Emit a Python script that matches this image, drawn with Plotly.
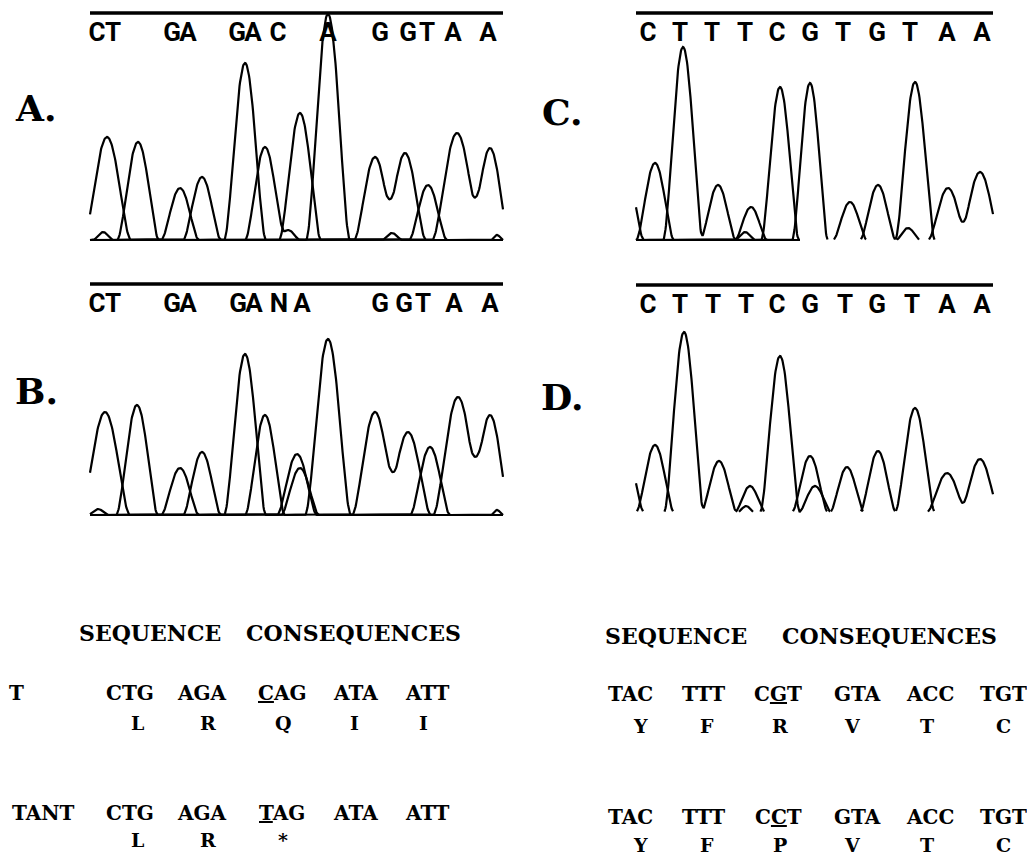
import numpy as np
import plotly.graph_objects as go

W, H = 1035, 854
OFF = 8  # the page body margin shifts the figure by 8px; positions below are screen pixels

# ---------------- chromatogram data (scan position, signal height, half-base width, base channel)
A_pos   = [17, 48, 90, 112, 155, 175, 198, 210, 238, 285, 315, 338, 367, 400, 13, 302, 407]
A_h     = [103, 98, 52, 63, 177, 93, 10, 127, 226, 83, 87, 55, 107, 92, 8, 7, 5]
A_w     = [24, 21, 19, 19, 21, 20, 12, 21, 22, 21, 21, 19, 25, 20, 10, 10, 6]
A_base  = ["C", "T", "G", "A", "G", "A", "A", "C", "A", "G", "G", "T", "A", "A", "G", "C", "T"]

B_pos   = [15, 47, 90, 112, 155, 175, 207, 210, 238, 285, 318, 340, 368, 400, 8, 407]
B_h     = [103, 110, 47, 63, 161, 100, 61, 47, 176, 103, 83, 68, 118, 100, 6, 5]
B_w     = [25, 21, 19, 19, 21, 20, 20, 19, 23, 23, 23, 20, 25, 21, 10, 6]
B_base  = ["C", "T", "G", "A", "G", "A", "C", "T", "A", "G", "G", "T", "A", "A", "G", "T"]

C_pos   = [-12, 19, 47, 82, 115, 109, 144, 174, 214, 242, 272, 279, 312, 344]
C_h     = [80, 77, 193, 55, 33, 8, 153, 157, 38, 55, 12, 158, 52, 68]
C_w     = [20, 19, 20, 18, 16, 10, 19, 18, 17, 18, 12, 20, 20, 21]
C_base  = ["G", "C", "T", "T", "T", "G", "C", "G", "T", "G", "A", "T", "A", "A"]

D_pos   = [-12, 19, 48, 83, 114, 110, 144, 174, 179, 211, 242, 279, 311, 344]
D_h     = [70, 67, 180, 51, 26, 6, 156, 56, 26, 45, 61, 104, 39, 53]
D_w     = [20, 19, 20, 18, 15, 8, 20, 18, 16, 17, 18, 20, 20, 20]
D_base  = ["G", "C", "T", "T", "T", "A", "C", "G", "C", "T", "G", "T", "A", "A"]

# base calls printed above each trace
A_calls = ["C", "T", "G", "A", "G", "A", "C", "A", "G", "G", "T", "A", "A"]
A_call_pos = [7, 23, 82, 98, 147, 163, 188, 238, 290, 318, 337, 363, 398]
B_calls = ["C", "T", "G", "A", "G", "A", "N", "A", "G", "G", "T", "A", "A"]
B_call_pos = [7, 23, 82, 98, 148, 164, 189, 212, 290, 314, 333, 364, 400]
C_calls = ["C", "T", "T", "T", "C", "G", "T", "G", "T", "A", "A"]
C_call_pos = [12, 44, 76, 109, 141, 174, 207, 241, 274, 311, 346]
D_calls = ["C", "T", "T", "T", "C", "G", "T", "G", "T", "A", "A"]
D_call_pos = [12, 44, 77, 110, 141, 174, 209, 241, 276, 311, 346]

# sequence consequences
left_wt_codons = ["CTG", "AGA", "<u>C</u>AG", "ATA", "ATT"]
left_wt_aa = ["L", "R", "Q", "I", "I"]
left_mut_codons = ["CTG", "AGA", "<u>T</u>AG", "ATA", "ATT"]
left_mut_aa = ["L", "R", "*"]
right_wt_codons = ["TAC", "TTT", "C<u>G</u>T", "GTA", "ACC", "TGT"]
right_wt_aa = ["Y", "F", "R", "V", "T", "C"]
right_mut_codons = ["TAC", "TTT", "C<u>C</u>T", "GTA", "ACC", "TGT"]
right_mut_aa = ["Y", "F", "P", "V", "T", "C"]


def fx(px):
    return (px - OFF) / W


def fy(py):
    return 1 - (py - OFF) / H


# ---------------- layout geometry (screen pixels)
panels = [
    dict(pos=A_pos, h=A_h, w=A_w, base=A_base, calls=A_calls, cpos=A_call_pos,
         x0=90, x1=503, top=13, bot=240, baseline_end=None),
    dict(pos=B_pos, h=B_h, w=B_w, base=B_base, calls=B_calls, cpos=B_call_pos,
         x0=90, x1=503, top=284, bot=515, baseline_end=None),
    dict(pos=C_pos, h=C_h, w=C_w, base=C_base, calls=C_calls, cpos=C_call_pos,
         x0=636, x1=993, top=13, bot=240, baseline_end=164),
    dict(pos=D_pos, h=D_h, w=D_w, base=D_base, calls=D_calls, cpos=D_call_pos,
         x0=636, x1=993, top=285, bot=512, baseline_end=-100),
]

PAD = 4    # px below baseline so the baseline stroke is not clipped
EXT = 14   # px of extra axis room left/right so edge base calls are not hidden
call_font = dict(family="Roboto, Liberation Sans, sans-serif", size=26, color="black", weight="bold")

fig = go.Figure()
layout = dict(width=W, height=H, margin=dict(l=0, r=0, t=0, b=0), autosize=False,
              paper_bgcolor="white", plot_bgcolor="rgba(0,0,0,0)", showlegend=False)
shapes = []

for i, p in enumerate(panels):
    n = "" if i == 0 else str(i + 1)
    xr = p["x1"] - p["x0"]
    yr = p["bot"] - p["top"]
    x = np.arange(0, xr + 0.01, 0.5)
    for ch in "ACGT":
        y = np.zeros_like(x)
        for pp, hh, ww, bb in zip(p["pos"], p["h"], p["w"], p["base"]):
            if bb == ch:
                u = (x - pp) / ww
                y += hh * np.clip(1 - u ** 2, 0, None) ** 2
        if p["baseline_end"] is not None:
            y = np.where((x > p["baseline_end"]) & (y < 0.3), np.nan, y)
        fig.add_trace(go.Scatter(x=x, y=y, mode="lines", xaxis="x" + n, yaxis="y" + n,
                                 line=dict(color="black", width=2.2), hoverinfo="skip",
                                 connectgaps=False))
    layout["xaxis" + n] = dict(
        domain=[fx(p["x0"] - EXT), fx(p["x1"] + EXT)], range=[-EXT, xr + EXT],
        anchor="y" + n, side="top", showline=False, showgrid=False, zeroline=False,
        tickmode="array", tickvals=p["cpos"], ticktext=p["calls"], ticks="",
        tickangle=0, ticklabelposition="inside", ticklabelstandoff=7,
        tickfont=call_font, fixedrange=True)
    layout["yaxis" + n] = dict(
        domain=[fy(p["bot"] + PAD), fy(p["top"])], range=[-PAD, yr],
        anchor="x" + n, visible=False, fixedrange=True)
    # sequence bar across the top of the trace
    shapes.append(dict(type="line", xref="x" + n, yref="y" + n + " domain",
                       x0=0, x1=xr, y0=1, y1=1, line=dict(color="black", width=3.5)))

label_font = dict(family="DejaVu Serif", size=36, color="black", weight="bold")
text_font = dict(family="DejaVu Serif", size=20, color="black", weight="bold")
aa_font = dict(family="DejaVu Serif", size=19, color="black", weight="bold")
head_font = dict(family="DejaVu Serif", size=22, color="black", weight="bold")

ann = []


def add(text, px, py, font, xanchor="center"):
    ann.append(dict(text=text, x=fx(px), y=fy(py), xref="paper", yref="paper",
                    xanchor=xanchor, yanchor="middle", showarrow=False, font=font, borderpad=0))


add("A.", 35, 108, label_font)
add("B.", 36, 391, label_font)
add("C.", 562, 112, label_font)
add("D.", 562, 397, label_font)

add("SEQUENCE", 150, 633, head_font)
add("CONSEQUENCES", 353, 633, head_font)
add("SEQUENCE", 676, 636, head_font)
add("CONSEQUENCES", 889, 636, head_font)

add("T", 8, 693, text_font, xanchor="left")
add("TANT", 76, 813, text_font, xanchor="right")

for t, px in zip(left_wt_codons, [130, 202, 282, 355, 427]):
    add(t, px, 693, text_font)
for t, px in zip(left_wt_aa, [137, 208, 283, 354, 423]):
    add(t, px, 723, aa_font)
for t, px in zip(left_mut_codons, [130, 202, 282, 355, 427]):
    add(t, px, 813, text_font)
for t, px in zip(left_mut_aa, [137, 208, 283]):
    add(t, px, 840, aa_font)
for t, px in zip(right_wt_codons, [630, 703, 778, 857, 930, 1003]):
    add(t, px, 694, text_font)
for t, px in zip(right_wt_aa, [640, 707, 780, 852, 927, 1003]):
    add(t, px, 726, aa_font)
for t, px in zip(right_mut_codons, [630, 703, 778, 857, 930, 1003]):
    add(t, px, 817, text_font)
for t, px in zip(right_mut_aa, [640, 707, 780, 852, 927, 1003]):
    add(t, px, 845, aa_font)

layout["annotations"] = ann
layout["shapes"] = shapes
fig.update_layout(**layout)
fig.write_html("out.html")
